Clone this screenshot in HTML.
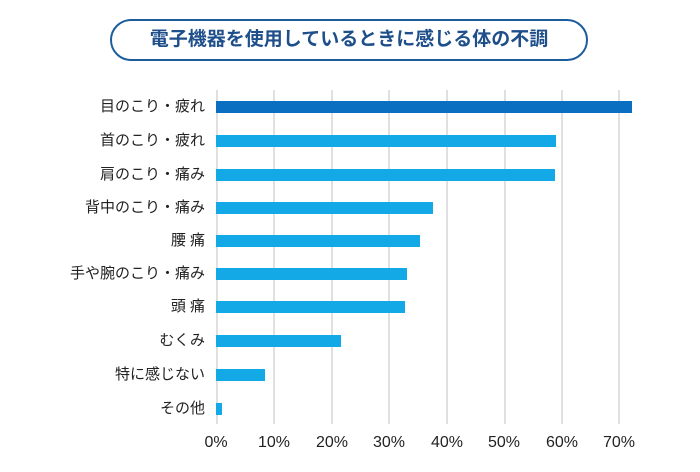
<!DOCTYPE html><html><head><meta charset="utf-8"><style>
body{margin:0;width:700px;height:472px;background:#fff;font-family:"Liberation Sans","Noto Sans CJK JP",sans-serif;position:relative;overflow:hidden}
.pill{position:absolute;left:110px;top:19px;width:474px;height:38px;border:2px solid #1c5c9c;border-radius:21px;text-align:center;line-height:38px;font-size:19px;font-weight:bold;color:#1f4f8a}
.g{position:absolute;top:90px;height:334px;width:2px;background:#e0e0e0}
.b{position:absolute;left:216px;height:12px;background:#13a8e6}
.l{position:absolute;right:495px;font-size:15px;color:#222;white-space:nowrap;line-height:16px}
.t{position:absolute;top:434px;font-size:16px;color:#222;width:60px;text-align:center;margin-left:-30px}
</style></head><body>
<div class="pill">電子機器を使用しているときに感じる体の不調</div>
<div class="g" style="left:216px"></div><div class="g" style="left:273px"></div><div class="g" style="left:331px"></div><div class="g" style="left:388px"></div><div class="g" style="left:446px"></div><div class="g" style="left:504px"></div><div class="g" style="left:561px"></div><div class="g" style="left:618px"></div>
<div class="b" style="top:101px;width:416px;background:#0a6fc0"></div><div class="l" style="top:99px">目のこり・疲れ</div>
<div class="b" style="top:135px;width:340px"></div><div class="l" style="top:133px">首のこり・疲れ</div>
<div class="b" style="top:169px;width:339px"></div><div class="l" style="top:167px">肩のこり・痛み</div>
<div class="b" style="top:202px;width:217px"></div><div class="l" style="top:200px">背中のこり・痛み</div>
<div class="b" style="top:235px;width:204px"></div><div class="l" style="top:233px">腰 痛</div>
<div class="b" style="top:268px;width:191px"></div><div class="l" style="top:266px">手や腕のこり・痛み</div>
<div class="b" style="top:301px;width:189px"></div><div class="l" style="top:299px">頭 痛</div>
<div class="b" style="top:335px;width:125px"></div><div class="l" style="top:333px">むくみ</div>
<div class="b" style="top:369px;width:49px"></div><div class="l" style="top:367px">特に感じない</div>
<div class="b" style="top:403px;width:6px"></div><div class="l" style="top:401px">その他</div>
<div class="t" style="left:216px">0%</div><div class="t" style="left:274px">10%</div><div class="t" style="left:332px">20%</div><div class="t" style="left:389px">30%</div><div class="t" style="left:447px">40%</div><div class="t" style="left:504px">50%</div><div class="t" style="left:562px">60%</div><div class="t" style="left:619px">70%</div>
</body></html>
